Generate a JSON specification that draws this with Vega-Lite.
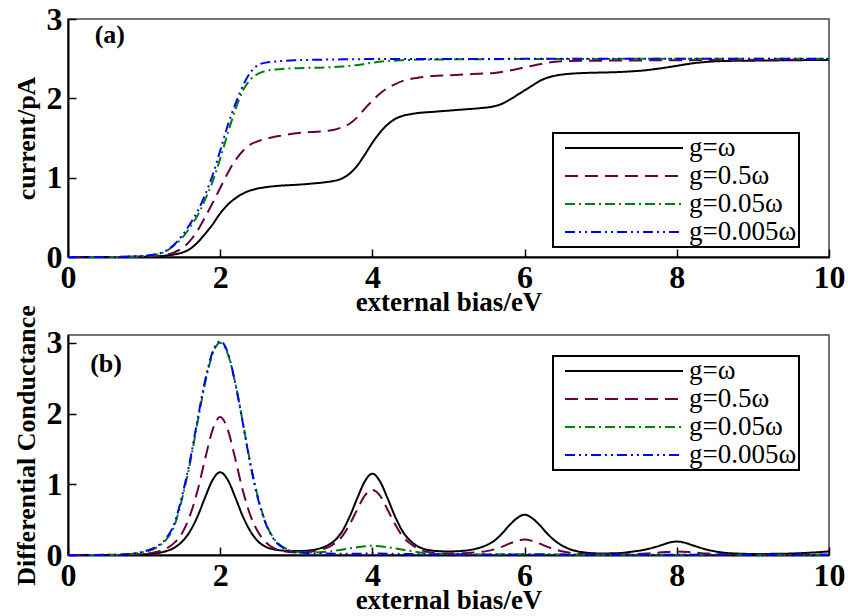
{
  "$schema": "https://vega.github.io/schema/vega-lite/v6.json",
  "padding": {"left": 12, "top": 2, "right": 0, "bottom": 0},
  "background": "white",
  "config": {
    "font": "Liberation Serif",
    "view": {"stroke": "#444444", "strokeWidth": 1.5},
    "axis": {
      "labelFont": "Liberation Serif", "labelFontSize": 32, "labelFontWeight": "bold", "labelColor": "black",
      "titleFont": "Liberation Serif", "titleFontSize": 26, "titleFontWeight": "bold", "titleColor": "black",
      "domainColor": "black", "domainWidth": 2, "tickColor": "black", "tickWidth": 1.5, "tickSize": -8,
      "grid": false, "labelFlush": false, "labelOverlap": false, "format": "d"
    },
    "axisX": {"labelPadding": 13, "titlePadding": -4, "titleFontSize": 27},
    "axisY": {"labelPadding": 14, "titlePadding": 7},
    "legend": {
      "orient": "none", "title": null,
      "labelFont": "Liberation Serif", "labelFontSize": 27, "labelColor": "black",
      "symbolType": "stroke", "symbolSize": 13924, "symbolStrokeWidth": 2,
      "strokeColor": "black", "strokeWidth": 2, "fillColor": "white",
      "padding": 2, "rowPadding": 1, "labelOffset": 5, "symbolOffset": 9, "clipHeight": 26
    }
  },
  "datasets": {
    "a": [
      {"g":"g=ω","x":0,"y":0},{"g":"g=ω","x":0.5,"y":0},{"g":"g=ω","x":1.0,"y":0.003},{"g":"g=ω","x":1.2,"y":0.01},{"g":"g=ω","x":1.3,"y":0.02},{"g":"g=ω","x":1.4,"y":0.033},{"g":"g=ω","x":1.5,"y":0.055},{"g":"g=ω","x":1.6,"y":0.1},{"g":"g=ω","x":1.7,"y":0.18},{"g":"g=ω","x":1.8,"y":0.29},{"g":"g=ω","x":1.9,"y":0.41},{"g":"g=ω","x":2.0,"y":0.55},{"g":"g=ω","x":2.1,"y":0.66},{"g":"g=ω","x":2.2,"y":0.74},{"g":"g=ω","x":2.3,"y":0.8},{"g":"g=ω","x":2.4,"y":0.84},{"g":"g=ω","x":2.5,"y":0.865},{"g":"g=ω","x":2.6,"y":0.88},{"g":"g=ω","x":2.8,"y":0.9},{"g":"g=ω","x":3.0,"y":0.91},{"g":"g=ω","x":3.2,"y":0.925},{"g":"g=ω","x":3.4,"y":0.945},{"g":"g=ω","x":3.5,"y":0.96},{"g":"g=ω","x":3.6,"y":0.99},{"g":"g=ω","x":3.7,"y":1.05},{"g":"g=ω","x":3.8,"y":1.15},{"g":"g=ω","x":3.9,"y":1.29},{"g":"g=ω","x":4.0,"y":1.44},{"g":"g=ω","x":4.1,"y":1.57},{"g":"g=ω","x":4.2,"y":1.67},{"g":"g=ω","x":4.3,"y":1.74},{"g":"g=ω","x":4.4,"y":1.78},{"g":"g=ω","x":4.5,"y":1.8},{"g":"g=ω","x":4.6,"y":1.815},{"g":"g=ω","x":4.8,"y":1.83},{"g":"g=ω","x":5.0,"y":1.845},{"g":"g=ω","x":5.2,"y":1.86},{"g":"g=ω","x":5.4,"y":1.875},{"g":"g=ω","x":5.6,"y":1.9},{"g":"g=ω","x":5.7,"y":1.93},{"g":"g=ω","x":5.8,"y":1.98},{"g":"g=ω","x":5.9,"y":2.04},{"g":"g=ω","x":6.0,"y":2.1},{"g":"g=ω","x":6.1,"y":2.16},{"g":"g=ω","x":6.2,"y":2.22},{"g":"g=ω","x":6.3,"y":2.26},{"g":"g=ω","x":6.4,"y":2.285},{"g":"g=ω","x":6.6,"y":2.31},{"g":"g=ω","x":6.8,"y":2.32},{"g":"g=ω","x":7.0,"y":2.325},{"g":"g=ω","x":7.2,"y":2.33},{"g":"g=ω","x":7.4,"y":2.34},{"g":"g=ω","x":7.6,"y":2.355},{"g":"g=ω","x":7.8,"y":2.38},{"g":"g=ω","x":8.0,"y":2.41},{"g":"g=ω","x":8.2,"y":2.44},{"g":"g=ω","x":8.4,"y":2.46},{"g":"g=ω","x":8.6,"y":2.47},{"g":"g=ω","x":9.0,"y":2.475},{"g":"g=ω","x":9.5,"y":2.48},{"g":"g=ω","x":10,"y":2.485},
      {"g":"g=0.5ω","x":0,"y":0},{"g":"g=0.5ω","x":0.5,"y":0},{"g":"g=0.5ω","x":1.0,"y":0.005},{"g":"g=0.5ω","x":1.2,"y":0.015},{"g":"g=0.5ω","x":1.3,"y":0.03},{"g":"g=0.5ω","x":1.4,"y":0.06},{"g":"g=0.5ω","x":1.5,"y":0.11},{"g":"g=0.5ω","x":1.6,"y":0.2},{"g":"g=0.5ω","x":1.7,"y":0.33},{"g":"g=0.5ω","x":1.8,"y":0.5},{"g":"g=0.5ω","x":1.9,"y":0.68},{"g":"g=0.5ω","x":2.0,"y":0.87},{"g":"g=0.5ω","x":2.1,"y":1.06},{"g":"g=0.5ω","x":2.2,"y":1.22},{"g":"g=0.5ω","x":2.3,"y":1.34},{"g":"g=0.5ω","x":2.4,"y":1.42},{"g":"g=0.5ω","x":2.5,"y":1.46},{"g":"g=0.5ω","x":2.6,"y":1.49},{"g":"g=0.5ω","x":2.8,"y":1.53},{"g":"g=0.5ω","x":3.0,"y":1.56},{"g":"g=0.5ω","x":3.2,"y":1.575},{"g":"g=0.5ω","x":3.4,"y":1.59},{"g":"g=0.5ω","x":3.5,"y":1.605},{"g":"g=0.5ω","x":3.6,"y":1.635},{"g":"g=0.5ω","x":3.7,"y":1.68},{"g":"g=0.5ω","x":3.8,"y":1.76},{"g":"g=0.5ω","x":3.9,"y":1.87},{"g":"g=0.5ω","x":4.0,"y":1.97},{"g":"g=0.5ω","x":4.1,"y":2.06},{"g":"g=0.5ω","x":4.2,"y":2.13},{"g":"g=0.5ω","x":4.3,"y":2.18},{"g":"g=0.5ω","x":4.4,"y":2.22},{"g":"g=0.5ω","x":4.6,"y":2.26},{"g":"g=0.5ω","x":4.8,"y":2.28},{"g":"g=0.5ω","x":5.0,"y":2.29},{"g":"g=0.5ω","x":5.2,"y":2.3},{"g":"g=0.5ω","x":5.4,"y":2.31},{"g":"g=0.5ω","x":5.6,"y":2.32},{"g":"g=0.5ω","x":5.8,"y":2.35},{"g":"g=0.5ω","x":6.0,"y":2.39},{"g":"g=0.5ω","x":6.2,"y":2.43},{"g":"g=0.5ω","x":6.4,"y":2.46},{"g":"g=0.5ω","x":6.6,"y":2.47},{"g":"g=0.5ω","x":7.0,"y":2.475},{"g":"g=0.5ω","x":8.0,"y":2.48},{"g":"g=0.5ω","x":9.0,"y":2.485},{"g":"g=0.5ω","x":10,"y":2.49},
      {"g":"g=0.05ω","x":0,"y":0},{"g":"g=0.05ω","x":0.5,"y":0},{"g":"g=0.05ω","x":0.8,"y":0.003},{"g":"g=0.05ω","x":1.0,"y":0.01},{"g":"g=0.05ω","x":1.1,"y":0.02},{"g":"g=0.05ω","x":1.2,"y":0.04},{"g":"g=0.05ω","x":1.3,"y":0.08},{"g":"g=0.05ω","x":1.4,"y":0.15},{"g":"g=0.05ω","x":1.5,"y":0.24},{"g":"g=0.05ω","x":1.6,"y":0.37},{"g":"g=0.05ω","x":1.7,"y":0.52},{"g":"g=0.05ω","x":1.8,"y":0.72},{"g":"g=0.05ω","x":1.9,"y":0.95},{"g":"g=0.05ω","x":2.0,"y":1.24},{"g":"g=0.05ω","x":2.1,"y":1.56},{"g":"g=0.05ω","x":2.2,"y":1.86},{"g":"g=0.05ω","x":2.3,"y":2.1},{"g":"g=0.05ω","x":2.4,"y":2.24},{"g":"g=0.05ω","x":2.5,"y":2.31},{"g":"g=0.05ω","x":2.6,"y":2.345},{"g":"g=0.05ω","x":2.8,"y":2.37},{"g":"g=0.05ω","x":3.0,"y":2.38},{"g":"g=0.05ω","x":3.4,"y":2.39},{"g":"g=0.05ω","x":3.6,"y":2.4},{"g":"g=0.05ω","x":3.8,"y":2.42},{"g":"g=0.05ω","x":4.0,"y":2.45},{"g":"g=0.05ω","x":4.2,"y":2.47},{"g":"g=0.05ω","x":4.4,"y":2.48},{"g":"g=0.05ω","x":4.8,"y":2.49},{"g":"g=0.05ω","x":6.0,"y":2.495},{"g":"g=0.05ω","x":10,"y":2.5},
      {"g":"g=0.005ω","x":0,"y":0},{"g":"g=0.005ω","x":0.5,"y":0},{"g":"g=0.005ω","x":0.8,"y":0.005},{"g":"g=0.005ω","x":1.0,"y":0.015},{"g":"g=0.005ω","x":1.1,"y":0.025},{"g":"g=0.005ω","x":1.2,"y":0.045},{"g":"g=0.005ω","x":1.3,"y":0.085},{"g":"g=0.005ω","x":1.4,"y":0.16},{"g":"g=0.005ω","x":1.5,"y":0.27},{"g":"g=0.005ω","x":1.6,"y":0.41},{"g":"g=0.005ω","x":1.7,"y":0.57},{"g":"g=0.005ω","x":1.8,"y":0.78},{"g":"g=0.005ω","x":1.9,"y":1.03},{"g":"g=0.005ω","x":2.0,"y":1.34},{"g":"g=0.005ω","x":2.1,"y":1.66},{"g":"g=0.005ω","x":2.2,"y":1.93},{"g":"g=0.005ω","x":2.3,"y":2.16},{"g":"g=0.005ω","x":2.4,"y":2.33},{"g":"g=0.005ω","x":2.5,"y":2.42},{"g":"g=0.005ω","x":2.6,"y":2.45},{"g":"g=0.005ω","x":2.8,"y":2.47},{"g":"g=0.005ω","x":3.0,"y":2.48},{"g":"g=0.005ω","x":3.5,"y":2.49},{"g":"g=0.005ω","x":4.0,"y":2.495},{"g":"g=0.005ω","x":10,"y":2.5}
    ],
    "b": [
      {"g":"g=ω","x":0,"y":0},{"g":"g=ω","x":0.6,"y":0},{"g":"g=ω","x":0.8,"y":0.004},{"g":"g=ω","x":1.0,"y":0.01},{"g":"g=ω","x":1.1,"y":0.018},{"g":"g=ω","x":1.2,"y":0.032},{"g":"g=ω","x":1.3,"y":0.058},{"g":"g=ω","x":1.4,"y":0.105},{"g":"g=ω","x":1.5,"y":0.19},{"g":"g=ω","x":1.6,"y":0.33},{"g":"g=ω","x":1.7,"y":0.54},{"g":"g=ω","x":1.8,"y":0.81},{"g":"g=ω","x":1.9,"y":1.06},{"g":"g=ω","x":2.0,"y":1.17},{"g":"g=ω","x":2.1,"y":1.06},{"g":"g=ω","x":2.2,"y":0.81},{"g":"g=ω","x":2.3,"y":0.54},{"g":"g=ω","x":2.4,"y":0.33},{"g":"g=ω","x":2.5,"y":0.19},{"g":"g=ω","x":2.6,"y":0.115},{"g":"g=ω","x":2.7,"y":0.08},{"g":"g=ω","x":2.8,"y":0.065},{"g":"g=ω","x":2.9,"y":0.058},{"g":"g=ω","x":3.0,"y":0.055},{"g":"g=ω","x":3.1,"y":0.058},{"g":"g=ω","x":3.2,"y":0.068},{"g":"g=ω","x":3.3,"y":0.09},{"g":"g=ω","x":3.4,"y":0.13},{"g":"g=ω","x":3.5,"y":0.2},{"g":"g=ω","x":3.6,"y":0.33},{"g":"g=ω","x":3.7,"y":0.54},{"g":"g=ω","x":3.8,"y":0.8},{"g":"g=ω","x":3.9,"y":1.04},{"g":"g=ω","x":4.0,"y":1.15},{"g":"g=ω","x":4.1,"y":1.04},{"g":"g=ω","x":4.2,"y":0.8},{"g":"g=ω","x":4.3,"y":0.54},{"g":"g=ω","x":4.4,"y":0.33},{"g":"g=ω","x":4.5,"y":0.2},{"g":"g=ω","x":4.6,"y":0.12},{"g":"g=ω","x":4.7,"y":0.08},{"g":"g=ω","x":4.8,"y":0.06},{"g":"g=ω","x":5.0,"y":0.05},{"g":"g=ω","x":5.2,"y":0.06},{"g":"g=ω","x":5.3,"y":0.075},{"g":"g=ω","x":5.4,"y":0.1},{"g":"g=ω","x":5.5,"y":0.14},{"g":"g=ω","x":5.6,"y":0.2},{"g":"g=ω","x":5.7,"y":0.3},{"g":"g=ω","x":5.8,"y":0.42},{"g":"g=ω","x":5.9,"y":0.52},{"g":"g=ω","x":6.0,"y":0.57},{"g":"g=ω","x":6.1,"y":0.52},{"g":"g=ω","x":6.2,"y":0.42},{"g":"g=ω","x":6.3,"y":0.3},{"g":"g=ω","x":6.4,"y":0.2},{"g":"g=ω","x":6.5,"y":0.13},{"g":"g=ω","x":6.6,"y":0.08},{"g":"g=ω","x":6.8,"y":0.035},{"g":"g=ω","x":7.0,"y":0.022},{"g":"g=ω","x":7.2,"y":0.025},{"g":"g=ω","x":7.4,"y":0.045},{"g":"g=ω","x":7.6,"y":0.08},{"g":"g=ω","x":7.8,"y":0.14},{"g":"g=ω","x":7.9,"y":0.175},{"g":"g=ω","x":8.0,"y":0.19},{"g":"g=ω","x":8.1,"y":0.175},{"g":"g=ω","x":8.2,"y":0.14},{"g":"g=ω","x":8.4,"y":0.075},{"g":"g=ω","x":8.6,"y":0.035},{"g":"g=ω","x":8.8,"y":0.02},{"g":"g=ω","x":9.0,"y":0.015},{"g":"g=ω","x":9.4,"y":0.018},{"g":"g=ω","x":9.7,"y":0.03},{"g":"g=ω","x":10,"y":0.05},
      {"g":"g=0.5ω","x":0,"y":0},{"g":"g=0.5ω","x":0.6,"y":0},{"g":"g=0.5ω","x":0.8,"y":0.005},{"g":"g=0.5ω","x":1.0,"y":0.015},{"g":"g=0.5ω","x":1.1,"y":0.028},{"g":"g=0.5ω","x":1.2,"y":0.052},{"g":"g=0.5ω","x":1.3,"y":0.096},{"g":"g=0.5ω","x":1.4,"y":0.175},{"g":"g=0.5ω","x":1.5,"y":0.31},{"g":"g=0.5ω","x":1.6,"y":0.55},{"g":"g=0.5ω","x":1.7,"y":0.9},{"g":"g=0.5ω","x":1.8,"y":1.35},{"g":"g=0.5ω","x":1.9,"y":1.77},{"g":"g=0.5ω","x":2.0,"y":1.95},{"g":"g=0.5ω","x":2.1,"y":1.77},{"g":"g=0.5ω","x":2.2,"y":1.35},{"g":"g=0.5ω","x":2.3,"y":0.9},{"g":"g=0.5ω","x":2.4,"y":0.55},{"g":"g=0.5ω","x":2.5,"y":0.32},{"g":"g=0.5ω","x":2.6,"y":0.18},{"g":"g=0.5ω","x":2.7,"y":0.1},{"g":"g=0.5ω","x":2.8,"y":0.06},{"g":"g=0.5ω","x":2.9,"y":0.042},{"g":"g=0.5ω","x":3.0,"y":0.036},{"g":"g=0.5ω","x":3.1,"y":0.04},{"g":"g=0.5ω","x":3.2,"y":0.05},{"g":"g=0.5ω","x":3.3,"y":0.07},{"g":"g=0.5ω","x":3.4,"y":0.1},{"g":"g=0.5ω","x":3.5,"y":0.16},{"g":"g=0.5ω","x":3.6,"y":0.26},{"g":"g=0.5ω","x":3.7,"y":0.43},{"g":"g=0.5ω","x":3.8,"y":0.64},{"g":"g=0.5ω","x":3.9,"y":0.84},{"g":"g=0.5ω","x":4.0,"y":0.92},{"g":"g=0.5ω","x":4.1,"y":0.84},{"g":"g=0.5ω","x":4.2,"y":0.64},{"g":"g=0.5ω","x":4.3,"y":0.43},{"g":"g=0.5ω","x":4.4,"y":0.26},{"g":"g=0.5ω","x":4.5,"y":0.16},{"g":"g=0.5ω","x":4.6,"y":0.09},{"g":"g=0.5ω","x":4.7,"y":0.05},{"g":"g=0.5ω","x":4.8,"y":0.032},{"g":"g=0.5ω","x":5.0,"y":0.02},{"g":"g=0.5ω","x":5.2,"y":0.025},{"g":"g=0.5ω","x":5.4,"y":0.04},{"g":"g=0.5ω","x":5.5,"y":0.055},{"g":"g=0.5ω","x":5.6,"y":0.08},{"g":"g=0.5ω","x":5.7,"y":0.115},{"g":"g=0.5ω","x":5.8,"y":0.16},{"g":"g=0.5ω","x":5.9,"y":0.2},{"g":"g=0.5ω","x":6.0,"y":0.22},{"g":"g=0.5ω","x":6.1,"y":0.2},{"g":"g=0.5ω","x":6.2,"y":0.16},{"g":"g=0.5ω","x":6.3,"y":0.115},{"g":"g=0.5ω","x":6.4,"y":0.08},{"g":"g=0.5ω","x":6.5,"y":0.05},{"g":"g=0.5ω","x":6.6,"y":0.032},{"g":"g=0.5ω","x":6.8,"y":0.015},{"g":"g=0.5ω","x":7.0,"y":0.01},{"g":"g=0.5ω","x":7.4,"y":0.012},{"g":"g=0.5ω","x":7.6,"y":0.02},{"g":"g=0.5ω","x":7.8,"y":0.038},{"g":"g=0.5ω","x":8.0,"y":0.05},{"g":"g=0.5ω","x":8.2,"y":0.038},{"g":"g=0.5ω","x":8.4,"y":0.02},{"g":"g=0.5ω","x":8.6,"y":0.01},{"g":"g=0.5ω","x":9.0,"y":0.005},{"g":"g=0.5ω","x":10,"y":0.005},
      {"g":"g=0.05ω","x":0,"y":0},{"g":"g=0.05ω","x":0.6,"y":0.003},{"g":"g=0.05ω","x":0.8,"y":0.012},{"g":"g=0.05ω","x":0.9,"y":0.025},{"g":"g=0.05ω","x":1.0,"y":0.045},{"g":"g=0.05ω","x":1.1,"y":0.075},{"g":"g=0.05ω","x":1.2,"y":0.13},{"g":"g=0.05ω","x":1.3,"y":0.23},{"g":"g=0.05ω","x":1.4,"y":0.42},{"g":"g=0.05ω","x":1.5,"y":0.8},{"g":"g=0.05ω","x":1.6,"y":1.28},{"g":"g=0.05ω","x":1.7,"y":1.86},{"g":"g=0.05ω","x":1.8,"y":2.42},{"g":"g=0.05ω","x":1.9,"y":2.84},{"g":"g=0.05ω","x":2.0,"y":3.0},{"g":"g=0.05ω","x":2.1,"y":2.84},{"g":"g=0.05ω","x":2.2,"y":2.42},{"g":"g=0.05ω","x":2.3,"y":1.86},{"g":"g=0.05ω","x":2.4,"y":1.28},{"g":"g=0.05ω","x":2.5,"y":0.8},{"g":"g=0.05ω","x":2.6,"y":0.45},{"g":"g=0.05ω","x":2.7,"y":0.24},{"g":"g=0.05ω","x":2.8,"y":0.13},{"g":"g=0.05ω","x":2.9,"y":0.075},{"g":"g=0.05ω","x":3.0,"y":0.045},{"g":"g=0.05ω","x":3.1,"y":0.035},{"g":"g=0.05ω","x":3.2,"y":0.035},{"g":"g=0.05ω","x":3.4,"y":0.045},{"g":"g=0.05ω","x":3.6,"y":0.075},{"g":"g=0.05ω","x":3.8,"y":0.11},{"g":"g=0.05ω","x":4.0,"y":0.13},{"g":"g=0.05ω","x":4.2,"y":0.11},{"g":"g=0.05ω","x":4.4,"y":0.075},{"g":"g=0.05ω","x":4.6,"y":0.04},{"g":"g=0.05ω","x":4.8,"y":0.02},{"g":"g=0.05ω","x":5.0,"y":0.01},{"g":"g=0.05ω","x":5.5,"y":0.008},{"g":"g=0.05ω","x":6.0,"y":0.012},{"g":"g=0.05ω","x":6.5,"y":0.006},{"g":"g=0.05ω","x":7.0,"y":0.004},{"g":"g=0.05ω","x":10,"y":0.004},
      {"g":"g=0.005ω","x":0,"y":0},{"g":"g=0.005ω","x":0.6,"y":0.004},{"g":"g=0.005ω","x":0.8,"y":0.014},{"g":"g=0.005ω","x":0.9,"y":0.028},{"g":"g=0.005ω","x":1.0,"y":0.05},{"g":"g=0.005ω","x":1.1,"y":0.085},{"g":"g=0.005ω","x":1.2,"y":0.145},{"g":"g=0.005ω","x":1.3,"y":0.25},{"g":"g=0.005ω","x":1.4,"y":0.45},{"g":"g=0.005ω","x":1.5,"y":0.84},{"g":"g=0.005ω","x":1.6,"y":1.32},{"g":"g=0.005ω","x":1.7,"y":1.9},{"g":"g=0.005ω","x":1.8,"y":2.46},{"g":"g=0.005ω","x":1.9,"y":2.87},{"g":"g=0.005ω","x":2.0,"y":3.02},{"g":"g=0.005ω","x":2.1,"y":2.86},{"g":"g=0.005ω","x":2.2,"y":2.42},{"g":"g=0.005ω","x":2.3,"y":1.85},{"g":"g=0.005ω","x":2.4,"y":1.26},{"g":"g=0.005ω","x":2.5,"y":0.78},{"g":"g=0.005ω","x":2.6,"y":0.44},{"g":"g=0.005ω","x":2.7,"y":0.23},{"g":"g=0.005ω","x":2.8,"y":0.12},{"g":"g=0.005ω","x":2.9,"y":0.065},{"g":"g=0.005ω","x":3.0,"y":0.04},{"g":"g=0.005ω","x":3.2,"y":0.025},{"g":"g=0.005ω","x":3.6,"y":0.018},{"g":"g=0.005ω","x":4.0,"y":0.02},{"g":"g=0.005ω","x":4.4,"y":0.015},{"g":"g=0.005ω","x":5.0,"y":0.008},{"g":"g=0.005ω","x":6.0,"y":0.006},{"g":"g=0.005ω","x":10,"y":0.004}
    ]
  },
  "bounds": "flush",
  "spacing": 78,
  "vconcat": [
    {
      "width": 761, "height": 238,
      "layer": [
        {
          "data": {"name": "a"},
          "mark": {"type": "line", "strokeWidth": 2, "interpolate": "monotone"},
          "encoding": {
            "x": {"field": "x", "type": "quantitative", "scale": {"domain": [0, 10], "nice": false}, "axis": {"values": [0, 2, 4, 6, 8, 10], "title": "external bias/eV"}},
            "y": {"field": "y", "type": "quantitative", "scale": {"domain": [0, 3], "nice": false}, "axis": {"values": [0, 1, 2, 3], "title": "current/pA"}},
            "color": {"field": "g", "type": "nominal", "scale": {"domain": ["g=ω", "g=0.5ω", "g=0.05ω", "g=0.005ω"], "range": ["#000000", "#660044", "#008000", "#0000ff"]}, "legend": {"legendX": 485, "legendY": 114}},
            "strokeDash": {"field": "g", "type": "nominal", "scale": {"domain": ["g=ω", "g=0.5ω", "g=0.05ω", "g=0.005ω"], "range": [[1, 0], [13, 7], [10, 4, 2, 4], [10, 4, 2, 4, 2, 4]]}, "legend": {"legendX": 485, "legendY": 114}}
          }
        },
        {
          "data": {"values": [{"x": 0.55, "y": 2.8, "t": "(a)"}]},
          "mark": {"type": "text", "fontSize": 26, "fontWeight": "bold", "font": "Liberation Serif", "color": "black", "align": "center", "baseline": "middle"},
          "encoding": {
            "x": {"field": "x", "type": "quantitative"},
            "y": {"field": "y", "type": "quantitative"},
            "text": {"field": "t"}
          }
        }
      ]
    },
    {
      "width": 761, "height": 220,
      "layer": [
        {
          "data": {"name": "b"},
          "mark": {"type": "line", "strokeWidth": 2, "interpolate": "monotone"},
          "encoding": {
            "x": {"field": "x", "type": "quantitative", "scale": {"domain": [0, 10], "nice": false}, "axis": {"values": [0, 2, 4, 6, 8, 10], "title": "external bias/eV"}},
            "y": {"field": "y", "type": "quantitative", "scale": {"domain": [0, 3.11], "nice": false}, "axis": {"values": [0, 1, 2, 3], "title": "Differential Conductance"}},
            "color": {"field": "g", "type": "nominal", "scale": {"domain": ["g=ω", "g=0.5ω", "g=0.05ω", "g=0.005ω"], "range": ["#000000", "#660044", "#008000", "#0000ff"]}, "legend": {"legendX": 485, "legendY": 21}},
            "strokeDash": {"field": "g", "type": "nominal", "scale": {"domain": ["g=ω", "g=0.5ω", "g=0.05ω", "g=0.005ω"], "range": [[1, 0], [13, 7], [10, 4, 2, 4], [10, 4, 2, 4, 2, 4]]}, "legend": {"legendX": 485, "legendY": 21}}
          }
        },
        {
          "data": {"values": [{"x": 0.5, "y": 2.7, "t": "(b)"}]},
          "mark": {"type": "text", "fontSize": 26, "fontWeight": "bold", "font": "Liberation Serif", "color": "black", "align": "center", "baseline": "middle"},
          "encoding": {
            "x": {"field": "x", "type": "quantitative"},
            "y": {"field": "y", "type": "quantitative"},
            "text": {"field": "t"}
          }
        }
      ]
    }
  ],
  "resolve": {
    "scale": {"y": "independent", "color": "independent", "strokeDash": "independent"},
    "legend": {"color": "independent", "strokeDash": "independent"}
  }
}
